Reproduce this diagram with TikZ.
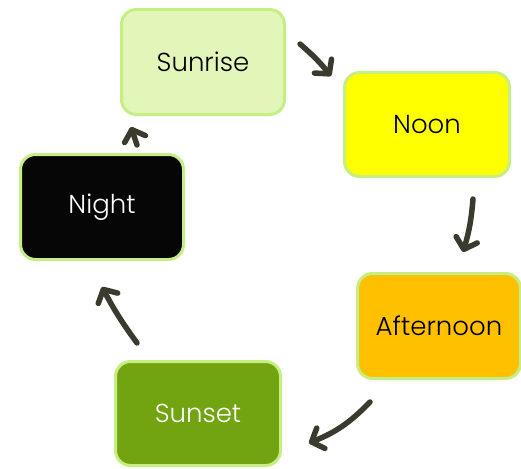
\documentclass[tikz,border=0pt]{standalone}
\usepackage{fontspec}
\setmainfont{Poppins}[UprightFont=* Light]
\usetikzlibrary{arrows.meta}
\definecolor{edgegreen}{HTML}{C6EE84}
\definecolor{sunrisefill}{HTML}{E1F6B8}
\definecolor{noonfill}{HTML}{FFFF00}
\definecolor{afterfill}{HTML}{FFC000}
\definecolor{sunsetfill}{HTML}{72A412}
\definecolor{nightfill}{HTML}{060606}
\definecolor{arrowcol}{HTML}{3B3A2E}
\begin{document}
\begin{tikzpicture}[x=1pt,y=1pt,
  phase/.style={draw=edgegreen, line width=3pt, rounded corners=15pt,
    minimum width=163pt, minimum height=105pt, inner sep=0pt,
    font=\fontsize{26}{30}\selectfont},
  cyclearrow/.style={draw=arrowcol, line width=5.5pt, line cap=round,
    -{Straight Barb[length=10pt,width=22pt,line cap=round,line join=round]}}]
\useasboundingbox (0,0) rectangle (521,-468);
\node[phase, fill=sunrisefill, text=black] (sunrise) at (203,-62) {Sunrise};
\node[phase, fill=noonfill, text=black, minimum width=165pt, minimum height=104pt] (noon) at (427,-124.5) {Noon};
\node[phase, fill=afterfill, text=black] (afternoon) at (439,-326) {Afternoon};
\node[phase, fill=sunsetfill, text=white, minimum width=165pt, minimum height=104pt] (sunset) at (198,-413.5) {Sunset};
\node[phase, fill=nightfill, text=white] (night) at (102,-207) {Night};
\coordinate (a1s) at (300,-44);
\coordinate (a1e) at (331,-76);
\coordinate (a2s) at (473,-199);
\coordinate (a2e) at (463,-252);
\coordinate (a3s) at (370,-402);
\coordinate (a3e) at (309,-443);
\coordinate (a4s) at (137,-343);
\coordinate (a4e) at (102,-287);
\coordinate (a5s) at (137,-145);
\coordinate (a5e) at (131,-127);
\draw[cyclearrow] (a1s) to[bend left=5] (a1e);
\draw[cyclearrow] (a2s) to[bend left=6] (a2e);
\draw[cyclearrow] (a3s) to[bend left=12] (a3e);
\draw[cyclearrow] (a4s) to[bend left=4] (a4e);
\draw[cyclearrow] (a5s) -- (a5e);
\end{tikzpicture}
\end{document}
